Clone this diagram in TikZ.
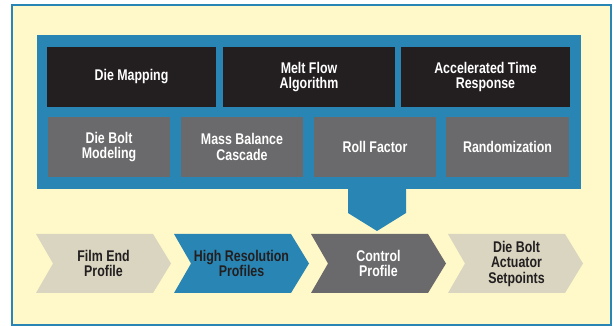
\documentclass[tikz,border=0pt]{standalone}
\usepackage{fontspec}
\setmainfont{Liberation Sans}[FakeStretch=0.8]
\definecolor{blueC}{HTML}{2986B4}
\definecolor{blackC}{HTML}{231F20}
\definecolor{grayC}{HTML}{6A696B}
\definecolor{beigeC}{HTML}{D9D5C0}
\definecolor{yellowC}{HTML}{FFF9C9}
\tikzset{
  lbl/.style={font=\fontsize{15.5}{15.5}\selectfont\bfseries, align=center, inner sep=0pt},
  darkbox/.style={lbl, fill=blackC, text=white, minimum height=60},
  graybox/.style={lbl, fill=grayC, text=white, minimum height=60, minimum width=122},
}
\newcommand{\chevshape}[2]{%
  \fill[#2] (#1,234) -- (#1+117,234) -- (#1+135,263.5) -- (#1+117,293) -- (#1,293) -- (#1+17,263.5) -- cycle;}
\begin{document}
\begin{tikzpicture}[x=1pt,y=-1pt]
\useasboundingbox (0,0) rectangle (614,326);
\fill[white] (0,0) rectangle (614,326);
\draw[line width=2pt, draw=blueC, fill=yellowC] (12,5) rectangle (611,325);
% blue container
\fill[blueC] (37,35) rectangle (581,189);
\fill[blueC] (348,188) -- (406,188) -- (406,213) -- (377,231) -- (348,213) -- cycle;
% top row
\node[darkbox, minimum width=169] (dm) at (131.5,77) {Die Mapping};
\node[darkbox, minimum width=172] (mf) at (309,77) {Melt Flow\\Algorithm};
\node[darkbox, minimum width=169] (at) at (485.5,77) {Accelerated Time\\Response};
% second row
\node[graybox] (db) at (109,147) {Die Bolt\\Modeling};
\node[graybox] (mb) at (242,147) {Mass Balance\\Cascade};
\node[graybox] (rf) at (375,147) {Roll Factor};
\node[graybox, minimum width=123] (rn) at (507.5,147) {Randomization};
% chevrons
\chevshape{36}{beigeC}
\chevshape{174}{blueC}
\chevshape{311}{grayC}
\chevshape{448}{beigeC}
\node[lbl, text=blackC] (fe) at (103.5,263.5) {Film End\\Profile};
\node[lbl, text=blackC] (hr) at (241.5,263.5) {High Resolution\\Profiles};
\node[lbl, text=white] (cp) at (378.5,263.5) {Control\\Profile};
\node[lbl, text=blackC] (ds) at (516.5,263.5) {Die Bolt\\Actuator\\Setpoints};
\end{tikzpicture}
\end{document}
